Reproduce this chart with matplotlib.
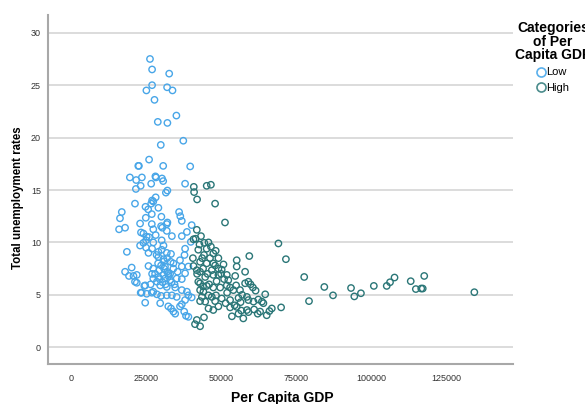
import matplotlib
matplotlib.use("Agg")
import matplotlib.pyplot as plt
from matplotlib.lines import Line2D

plt.rcParams['font.family'] = ['Liberation Sans', 'DejaVu Sans']

# per capita GDP / unemployment rate, low GDP group
low_gdp = [26300, 27000, 32700, 27000, 25100, 32000, 33800, 27800, 35100, 28900,
           32100, 37400, 29900, 26000, 22400, 22600, 30700, 39700, 19600, 23600,
           28100, 28300, 30300, 21700, 30700, 23200, 26700, 38000, 21600, 32100,
           31600, 28200, 27000,
           21300, 24800, 25700, 26700, 27400, 29100, 16900, 16300, 24900, 26900,
           30100, 36000, 36400, 36900, 23000, 26900, 31900, 40200, 16000, 18000,
           27400, 30400, 31900, 36900, 38600, 23300, 24100, 25200, 28200, 33600,
           30200, 25000, 24100, 27400, 30800, 23000, 18600, 25800, 29100, 31900,
           33300, 38000, 39900, 29100, 30800, 37800, 36300, 33200, 25800, 27400,
           20200, 18000, 19300, 20800, 21900, 29400, 31300, 34100, 36900, 39100,
           38000, 34100, 32400, 30800, 29100, 27400, 28600, 31300, 33000, 35200,
           36900, 21900, 29700, 31900, 34700, 24400, 36900, 38600, 23200, 25200,
           27400, 28600, 30000, 31900, 33600, 35200, 39100, 40200, 24700, 29700,
           32400, 33300, 34100, 34700, 36300, 36900, 38000, 37700, 39100, 32100,
           30000, 29000, 30000, 31000, 32000, 33000, 29500, 30500, 31500, 32500,
           33500, 34500, 28000, 27000, 26500, 35500, 31000, 32000, 28500, 30200,
           27000, 25000, 26000, 21300, 24700, 23500, 26900, 38300]
low_unemp = [27.5, 26.5, 26.1, 25.0, 24.5, 24.8, 24.5, 23.6, 22.1, 21.5,
             21.4, 19.7, 19.3, 17.9, 17.3, 17.3, 17.3, 17.25, 16.2, 16.2,
             16.3, 16.2, 16.1, 15.95, 15.85, 15.4, 15.6, 15.6, 15.1, 14.95,
             14.75, 14.3, 14.0,
             13.7, 13.4, 13.15, 13.7, 13.9, 13.3, 12.9, 12.3, 12.35, 12.7,
             12.45, 12.9, 12.5, 12.05, 11.8, 11.75, 11.75, 11.65, 11.25, 11.4,
             11.25, 11.4, 11.1, 10.6, 11.0, 10.95, 10.85, 10.55, 10.7, 10.6,
             10.2, 10.2, 9.96, 10.0, 9.7, 9.7, 9.1, 9.0, 9.1, 9.0,
             8.9, 9.4, 10.05, 8.6, 8.4, 8.8, 8.3, 8.15, 7.75, 7.5,
             7.6, 7.2, 6.8, 6.8, 6.9, 7.35, 7.7, 8.0, 7.7, 7.7,
             7.05, 7.5, 7.05, 6.9, 6.7, 6.55, 6.25, 6.55, 6.4, 6.55,
             6.5, 6.15, 5.9, 5.75, 5.7, 5.85, 5.45, 5.3, 5.2, 5.1,
             5.3, 5.05, 4.9, 4.95, 4.95, 4.8, 4.95, 4.75, 4.25, 4.2,
             3.9, 3.7, 3.4, 3.2, 3.9, 4.1, 4.5, 3.4, 2.9, 11.9,
             11.55, 8.0, 7.8, 7.5, 7.2, 7.0, 6.5, 6.2, 6.0, 6.8,
             6.2, 6.0, 7.0, 7.0, 6.0, 7.2, 8.2, 8.5, 8.8, 9.3,
             9.4, 9.5, 10.5, 6.25, 5.9, 5.2, 5.2, 3.0]

# high GDP group
high_gdp = [40900, 41000, 45200, 46600, 42000, 48000, 51300, 69100, 59400, 71600,
            55200, 41900, 43300, 40800, 41500, 44400, 42400, 45200, 46600, 47400,
            44300, 49100, 46300, 40600, 43000, 45200, 50800, 47400, 40800, 41900,
            43000, 46900, 49100, 50200, 51900, 49100, 47400, 44700, 52400, 54700,
            58000, 55200, 42400, 43000, 45200, 47400, 49700, 51900, 53000, 54100,
            56300, 58000, 59100, 60600, 43000, 44100, 45800, 46900, 48300, 43600,
            43000, 44700, 50200, 53000, 55800, 58600, 59100, 60800, 62400, 63600,
            64700, 41900, 41300, 43000, 44300, 45800, 47400, 49100, 53000, 53600,
            55200, 55800, 57400, 58600, 59100, 62200, 65200, 66100, 66900, 70000,
            64100,
            77700, 79300, 84400, 87300, 93300, 94400, 96600, 100900, 105200, 106300,
            107800, 113200, 114900, 116700, 117200, 117700, 134400,
            42000, 44000, 45500, 48000, 50000, 51000, 48500, 46000, 44000, 52000,
            55000, 57000, 61500, 59800, 56500, 54500, 51500, 48000, 61000, 63000,
            56700, 42800, 45800, 43700, 48200]
high_unemp = [15.3, 14.8, 15.4, 15.5, 14.1, 13.7, 11.9, 9.9, 8.7, 8.4,
              8.3, 11.2, 10.6, 10.3, 10.35, 9.96, 9.3, 9.4, 9.6, 8.95,
              8.8, 8.5, 8.5, 8.5, 8.15, 8.0, 7.9, 8.0, 7.75, 7.35,
              7.2, 7.35, 7.5, 7.4, 6.9, 6.9, 6.9, 6.7, 6.4, 6.8,
              7.2, 7.7, 6.25, 6.1, 5.85, 5.7, 5.7, 5.9, 5.7, 5.45,
              5.45, 6.1, 6.25, 5.7, 5.45, 5.3, 4.95, 4.8, 4.95, 4.8,
              4.4, 4.35, 4.65, 4.5, 4.7, 4.8, 4.5, 4.35, 4.55, 4.35,
              5.05, 2.6, 2.2, 2.0, 2.85, 3.7, 3.55, 3.9, 3.8, 2.95,
              3.85, 3.2, 2.75, 3.55, 3.35, 3.2, 3.05, 3.45, 3.7, 3.8,
              4.2,
              6.7, 4.4, 5.75, 4.95, 5.65, 4.85, 5.15, 5.85, 5.85, 6.2,
              6.65, 6.3, 5.55, 5.6, 5.6, 6.8, 5.25,
              7.0, 7.5, 7.0, 7.8, 7.0, 6.5, 6.3, 6.0, 5.8, 5.2,
              5.9, 5.0, 5.4, 6.0, 4.3, 4.0, 4.2, 4.4, 3.6, 3.4,
              3.5, 9.8, 10.0, 8.5, 9.2]

categories = ["Low", "High"]
x_ticks = [0, 25000, 50000, 75000, 100000, 125000]
y_ticks = [0, 5, 10, 15, 20, 25, 30]

low_col = "#48a6e8"
high_col = "#2a7677"

fig = plt.figure(figsize=(5.85, 4.04), dpi=100)
ax = fig.add_axes([0.082, 0.099, 0.795, 0.864])

ax.scatter(low_gdp, low_unemp, s=21, facecolors="none", edgecolors=low_col, linewidths=1.0, zorder=3)
ax.scatter(high_gdp, high_unemp, s=21, facecolors="none", edgecolors=high_col, linewidths=1.0, zorder=3)

ax.set_xlim(-7700, 147300)
ax.set_ylim(-1.6, 31.7)
ax.set_xticks(x_ticks)
ax.set_xticklabels([str(t) for t in x_ticks])
ax.set_yticks(y_ticks)
ax.set_yticklabels([str(t) for t in y_ticks])
ax.tick_params(axis="both", length=0, labelsize=6.5, labelcolor="#333333")
ax.tick_params(axis="x", pad=7)
ax.tick_params(axis="y", pad=5)

ax.grid(axis="y", color="#d6d6d6", linewidth=1.2, zorder=0)
ax.set_axisbelow(True)
for s in ["top", "right"]:
    ax.spines[s].set_visible(False)
for s in ["left", "bottom"]:
    ax.spines[s].set_color("#a8a8a8")
    ax.spines[s].set_linewidth(1.5)

fig.text(0.482, 0.014, "Per Capita GDP", ha="center", va="center", fontsize=10, fontweight="bold")
fig.text(0.030, 0.51, "Total unemployment rates", ha="center", va="center", rotation=90,
         fontsize=8.3, fontweight="bold")

# legend, title drawn by hand so it can run past the right edge like the original
fig.text(0.945, 0.897, "Categories\nof Per\nCapita GDP", ha="center", va="center", fontsize=10,
         fontweight="bold", linespacing=0.95)
handles = [Line2D([], [], linestyle="none", marker="o", markersize=6.5, markerfacecolor="none",
                  markeredgecolor=c, markeredgewidth=1.2) for c in ["#5ab0ec", "#4a8c8c"]]
fig.legend(handles, categories, loc="upper left", bbox_to_anchor=(0.919, 0.833), frameon=False,
           fontsize=8, handlelength=0.6, handletextpad=0.15, labelspacing=0.5, borderpad=0,
           borderaxespad=0)

fig.savefig("out.png", dpi=100)
